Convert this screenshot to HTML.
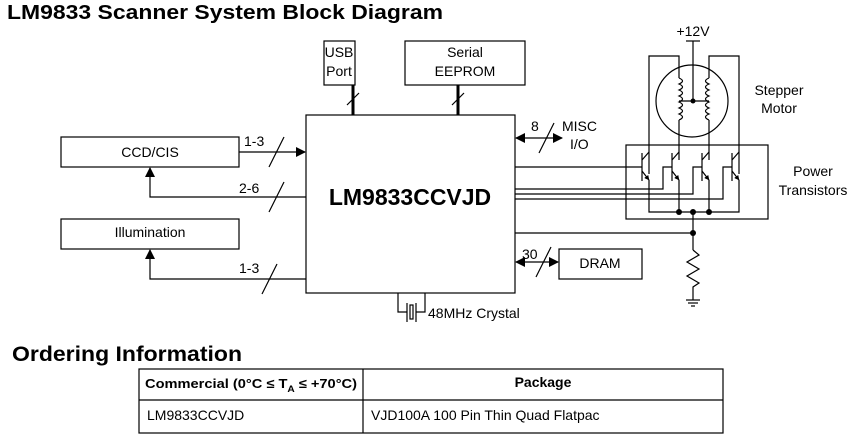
<!DOCTYPE html>
<html><head><meta charset="utf-8"><style>
body{margin:0;background:#fff}
svg{display:block}
text{font-family:"Liberation Sans",Arial,sans-serif;fill:#000}
</style></head><body>
<svg width="867" height="446" viewBox="0 0 867 446" xmlns="http://www.w3.org/2000/svg">
<defs>
<marker id="ar" viewBox="0 0 10 10" refX="9" refY="5" markerWidth="10" markerHeight="10" markerUnits="userSpaceOnUse" orient="auto"><path d="M0,0L10,5L0,10z" fill="#000"/></marker>
<marker id="sm" viewBox="0 0 10 10" refX="9" refY="5" markerWidth="5" markerHeight="5" markerUnits="userSpaceOnUse" orient="auto"><path d="M0,0L10,5L0,10z" fill="#000"/></marker>
</defs>
<text x="7" y="19" font-size="20" font-weight="bold" textLength="436" lengthAdjust="spacingAndGlyphs">LM9833 Scanner System Block Diagram</text>

<g stroke="#000" stroke-width="1.2" fill="none">
<rect x="306" y="115" width="209" height="178"/>
<rect x="324" y="41" width="31" height="44"/>
<rect x="405" y="41" width="120" height="44"/>
<line x1="353" y1="85" x2="353" y2="115" stroke-width="3"/>
<line x1="458" y1="85" x2="458" y2="115" stroke-width="3"/>
<line x1="347" y1="105" x2="359" y2="93"/>
<line x1="452" y1="105" x2="464" y2="93"/>
<rect x="61" y="137" width="178" height="30"/>
<rect x="61" y="219" width="178" height="30"/>
<line x1="239" y1="152" x2="305" y2="152" marker-end="url(#ar)"/>
<line x1="269" y1="167" x2="284" y2="137"/>
<polyline points="306,197 150,197 150,168" marker-end="url(#ar)"/>
<line x1="269" y1="212" x2="284" y2="182"/>
<polyline points="306,279 150,279 150,250" marker-end="url(#ar)"/>
<line x1="262" y1="294" x2="277" y2="264"/>
<polyline points="398,293 398,312 407,312"/>
<polyline points="425,293 425,312 416,312"/>
<line x1="407" y1="303" x2="407" y2="322"/>
<line x1="416" y1="303" x2="416" y2="322"/>
<rect x="410" y="305" width="3" height="14"/>
<line x1="517" y1="138" x2="562" y2="138" marker-end="url(#ar)"/>
<line x1="525" y1="138" x2="516" y2="138" marker-end="url(#ar)"/>
<line x1="539" y1="153" x2="554" y2="123"/>
<rect x="559" y="249" width="83" height="30"/>
<line x1="517" y1="262" x2="558" y2="262" marker-end="url(#ar)"/>
<line x1="525" y1="262" x2="516" y2="262" marker-end="url(#ar)"/>
<line x1="536" y1="277" x2="551" y2="247"/>
<rect x="626" y="145" width="142" height="74"/>
<circle cx="692" cy="101" r="36"/>
<line x1="686" y1="41" x2="700" y2="41"/>
<line x1="693" y1="41" x2="693" y2="101"/>
<line x1="679" y1="101" x2="709" y2="101"/>
<polyline points="649,174 649,56 679,56 679,78"/>
<polyline points="739,174 739,56 709,56 709,78"/>
<path d="M679,78 q7,3 0,6 q7,3 0,6 q7,3 0,6 q7,3 0,6 q7,3 0,6 q7,3 0,6 q7,3 0,6" />
<path d="M709,78 q-7,3 0,6 q-7,3 0,6 q-7,3 0,6 q-7,3 0,6 q-7,3 0,6 q-7,3 0,6 q-7,3 0,6" />
<line x1="679" y1="120" x2="679" y2="160"/>
<line x1="709" y1="120" x2="709" y2="160"/>
<g>
<line x1="642" y1="153" x2="642" y2="181"/><line x1="642" y1="160" x2="649" y2="152"/><line x1="642" y1="171" x2="649" y2="180" marker-end="url(#sm)"/>
<line x1="672" y1="153" x2="672" y2="181"/><line x1="672" y1="160" x2="679" y2="152"/><line x1="672" y1="171" x2="679" y2="180" marker-end="url(#sm)"/>
<line x1="702" y1="153" x2="702" y2="181"/><line x1="702" y1="160" x2="709" y2="152"/><line x1="702" y1="171" x2="709" y2="180" marker-end="url(#sm)"/>
<line x1="732" y1="153" x2="732" y2="181"/><line x1="732" y1="160" x2="739" y2="152"/><line x1="732" y1="171" x2="739" y2="180" marker-end="url(#sm)"/>
</g>
<polyline points="649,180 649,212 739,212 739,180"/>
<line x1="679" y1="180" x2="679" y2="212"/>
<line x1="709" y1="180" x2="709" y2="212"/>
<line x1="515" y1="167" x2="642" y2="167"/>
<polyline points="515,189 663,189 663,167 672,167"/>
<polyline points="515,194 693,194 693,167 702,167"/>
<polyline points="515,199 723,199 723,167 732,167"/>
<line x1="515" y1="233" x2="693" y2="233"/>
<line x1="693" y1="212" x2="693" y2="250"/>
<polyline points="693,250 699,255 687,262 699,269 687,276 699,283 693,287 693,300"/>
<line x1="686" y1="300" x2="700" y2="300"/>
<line x1="688" y1="303" x2="698" y2="303"/>
<line x1="691" y1="306" x2="695" y2="306"/>
</g>
<g fill="#000">
<circle cx="693" cy="101" r="2.5"/>
<circle cx="679" cy="212" r="3"/><circle cx="693" cy="212" r="3"/><circle cx="709" cy="212" r="3"/>
<circle cx="693" cy="233" r="3"/>
</g>

<g font-size="14">
<text x="339" y="57" text-anchor="middle">USB</text>
<text x="339" y="76" text-anchor="middle">Port</text>
<text x="465" y="57" text-anchor="middle">Serial</text>
<text x="465" y="76" text-anchor="middle">EEPROM</text>
<text x="150" y="157" text-anchor="middle">CCD/CIS</text>
<text x="150" y="237" text-anchor="middle">Illumination</text>
<text x="244" y="146">1-3</text>
<text x="239" y="193">2-6</text>
<text x="239" y="273">1-3</text>
<text x="531" y="131">8</text>
<text x="562" y="131">MISC</text>
<text x="570" y="149">I/O</text>
<text x="522" y="259">30</text>
<text x="600" y="268" text-anchor="middle">DRAM</text>
<text x="428" y="318">48MHz Crystal</text>
<text x="693" y="36" text-anchor="middle">+12V</text>
<text x="779" y="95" text-anchor="middle">Stepper</text>
<text x="779" y="113" text-anchor="middle">Motor</text>
<text x="813" y="176" text-anchor="middle">Power</text>
<text x="813" y="195" text-anchor="middle">Transistors</text>
</g>
<text x="410" y="205" font-size="23" font-weight="bold" text-anchor="middle">LM9833CCVJD</text>

<text x="12" y="361" font-size="21" font-weight="bold" textLength="230" lengthAdjust="spacingAndGlyphs">Ordering Information</text>
<g stroke="#000" stroke-width="1.2" fill="none">
<rect x="139" y="369" width="584" height="64"/>
<line x1="139" y1="400" x2="723" y2="400"/>
<line x1="363" y1="369" x2="363" y2="433"/>
</g>
<text x="145" y="388" font-size="13" font-weight="bold" textLength="212" lengthAdjust="spacingAndGlyphs">Commercial (0°C ≤ T<tspan font-size="9" dy="4">A</tspan><tspan dy="-4"> ≤ +70°C)</tspan></text>
<text x="543" y="387" font-size="14" font-weight="bold" text-anchor="middle">Package</text>
<text x="147" y="420" font-size="14">LM9833CCVJD</text>
<text x="371" y="420" font-size="14">VJD100A 100 Pin Thin Quad Flatpac</text>
</svg>
</body></html>
